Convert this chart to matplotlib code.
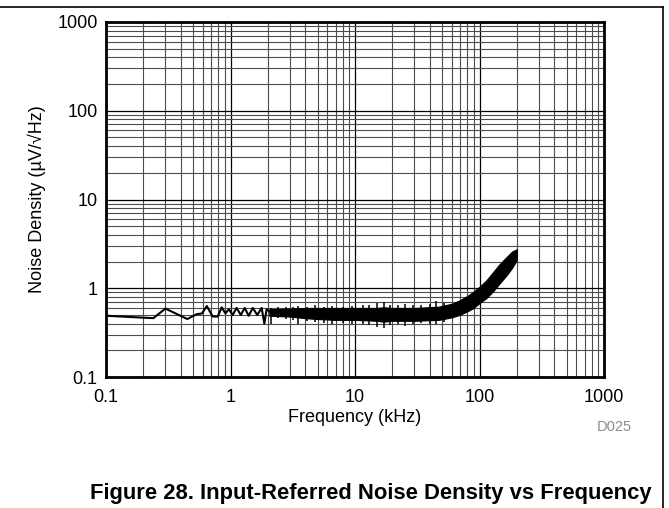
#!/usr/bin/env python3
# -*- coding: utf-8 -*-

import matplotlib
matplotlib.use('Agg')
import matplotlib.pyplot as plt
from matplotlib.lines import Line2D
from matplotlib.ticker import LogLocator, NullFormatter, FixedFormatter, FixedLocator

plt.rcParams['font.family'] = ['Liberation Sans', 'DejaVu Sans']

# low frequency part of the trace (kHz, uV/rtHz)
freq_low = [0.1, 0.24, 0.30, 0.45, 0.535, 0.59, 0.645, 0.72, 0.79, 0.85, 0.91,
            0.97, 1.04, 1.12, 1.21, 1.30, 1.40, 1.51, 1.64, 1.78, 1.87, 1.95, 2.05]
noise_low = [0.49, 0.46, 0.59, 0.45, 0.51, 0.52, 0.63, 0.48, 0.48, 0.61, 0.52,
             0.58, 0.50, 0.60, 0.50, 0.60, 0.49, 0.60, 0.50, 0.60, 0.40, 0.58, 0.55]

# dense part of the trace, drawn as a band
band_freq = [2.05, 3, 4, 5, 7, 10, 15, 17, 20, 30, 47, 60, 69, 80, 88, 100,
             113, 130, 144, 165, 183, 200]
band_hi = [0.58, 0.59, 0.60, 0.60, 0.60, 0.60, 0.60, 0.61, 0.60, 0.60, 0.62,
           0.67, 0.73, 0.82, 0.90, 1.04, 1.22, 1.55, 1.85, 2.25, 2.60, 2.75]
band_lo = [0.49, 0.48, 0.46, 0.45, 0.44, 0.44, 0.43, 0.42, 0.43, 0.43, 0.44,
           0.47, 0.50, 0.55, 0.59, 0.68, 0.77, 0.94, 1.12, 1.40, 1.70, 2.10]

# spikes visible in the noisy band
spike_freq = [2.1, 2.4, 2.8, 3.2, 3.5, 4.1, 4.8, 5.6, 6.5, 8.0, 9.5, 11.5,
              13.0, 15.0, 17.0, 19.0, 22.0, 25.0, 29.0, 34.0, 40.0, 45.0, 52.0]
spike_lo = [0.40, 0.46, 0.45, 0.44, 0.40, 0.43, 0.42, 0.41, 0.40, 0.41, 0.40,
            0.40, 0.39, 0.37, 0.36, 0.39, 0.40, 0.38, 0.40, 0.41, 0.40, 0.40, 0.42]
spike_hi = [0.60, 0.62, 0.61, 0.62, 0.63, 0.62, 0.65, 0.62, 0.63, 0.62, 0.63,
            0.64, 0.65, 0.68, 0.70, 0.64, 0.65, 0.66, 0.64, 0.65, 0.66, 0.72, 0.68]

x_ticks = [0.1, 1, 10, 100, 1000]
y_ticks = [0.1, 1, 10, 100, 1000]
tick_labels = ['0.1', '1', '10', '100', '1000']

fig = plt.figure(figsize=(6.69, 5.08), dpi=100)
ax = fig.add_axes([106 / 669, 131 / 508, 498 / 669, 355 / 508])

ax.set_xscale('log')
ax.set_yscale('log')
ax.set_xlim(0.1, 1000)
ax.set_ylim(0.1, 1000)

ax.xaxis.set_major_locator(FixedLocator(x_ticks))
ax.xaxis.set_major_formatter(FixedFormatter(tick_labels))
ax.yaxis.set_major_locator(FixedLocator(y_ticks))
ax.yaxis.set_major_formatter(FixedFormatter(tick_labels))
ax.xaxis.set_minor_locator(LogLocator(base=10, subs=range(2, 10), numticks=20))
ax.yaxis.set_minor_locator(LogLocator(base=10, subs=range(2, 10), numticks=20))
ax.xaxis.set_minor_formatter(NullFormatter())
ax.yaxis.set_minor_formatter(NullFormatter())

ax.grid(True, which='major', color='black', linewidth=0.9)
ax.grid(True, which='minor', color='0.3', linewidth=0.8)
ax.tick_params(which='both', direction='in', length=0, labelsize=13)
ax.tick_params(axis='x', pad=8.5)
ax.tick_params(axis='y', pad=6)
for s in ax.spines.values():
    s.set_linewidth(2.0)

# the trace
ax.plot(freq_low, noise_low, color='black', linewidth=1.5, zorder=3)
ax.fill_between(band_freq, band_lo, band_hi, color='black', linewidth=0.8,
                edgecolor='black', zorder=3)
ax.vlines(spike_freq, spike_lo, spike_hi, color='black', linewidth=1.1, zorder=3)

ax.set_xlabel('Frequency (kHz)', fontsize=13, labelpad=2)
ax.set_ylabel('Noise Density (\u00b5V/\u221aHz)', fontsize=13)
ax.yaxis.set_label_coords(-0.1205, 0.5)

fig.text(632 / 669, 1 - 427 / 508, 'D025', fontsize=10.5, color='0.55',
         ha='right', va='center')
fig.text(371 / 669, 1 - 493 / 508,
         'Figure 28. Input-Referred Noise Density vs Frequency',
         fontsize=15.8, fontweight='bold', ha='center', va='center')

# frame lines around the figure (top and right)
fig.add_artist(Line2D([0, 663 / 669], [1 - 7 / 508, 1 - 7 / 508],
                      transform=fig.transFigure, color='black', linewidth=1.2))
fig.add_artist(Line2D([663 / 669, 663 / 669], [0, 1 - 7 / 508],
                      transform=fig.transFigure, color='black', linewidth=1.2))

plt.savefig('out.png', dpi=100)
